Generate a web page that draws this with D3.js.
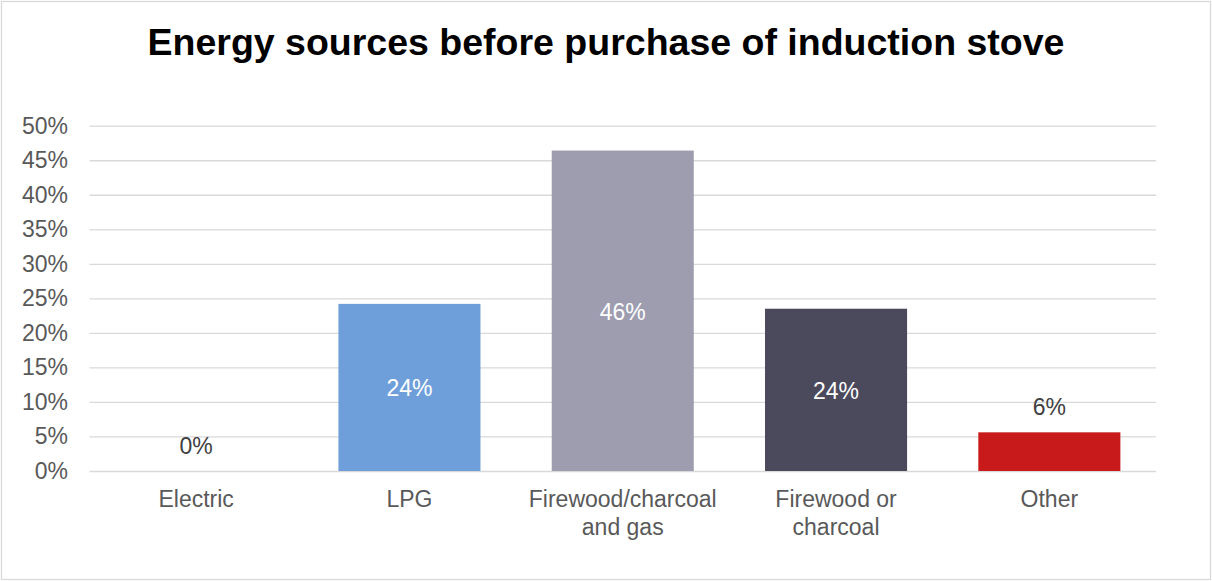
<!DOCTYPE html>
<html lang="en">
<head>
    <meta charset="UTF-8">
    <title>Energy sources before purchase of induction stove</title>
    <script src="https://cdn.jsdelivr.net/npm/d3@7"></script>
    <style>
        body { margin: 0; background: #fff; }
        text { font-family: "Liberation Sans", Arial, sans-serif; }
    </style>
</head>
<body>
<div id="chart"></div>
<script>

    // chart data
    const categories = ["Electric", "LPG", "Firewood/charcoal and gas", "Firewood or charcoal", "Other"];
    const shares = [0, 24.2, 46.4, 23.5, 5.6];
    const barColors = ["#6f9fdb", "#6f9fdb", "#9d9daf", "#4b4a5c", "#c81a1a"];
    const yTicks = [0, 5, 10, 15, 20, 25, 30, 35, 40, 45, 50];
    // how the category names break onto two lines
    const catLines = [["Electric"], ["LPG"], ["Firewood/charcoal", "and gas"], ["Firewood or", "charcoal"], ["Other"]];

    const W = 1212, H = 581;
    const plotLeft = 89.5, plotRight = 1156, plotTop = 125.7, plotBottom = 471;
    const fontSize = 23;

    const svg = d3.select("#chart").append("svg")
        .attr("width", W)
        .attr("height", H);

    svg.append("rect")
        .attr("x", 1.5).attr("y", 1.5)
        .attr("width", W - 3).attr("height", H - 3)
        .attr("fill", "#fff")
        .attr("stroke", "#d9d9d9")
        .attr("stroke-width", 1.3);

    svg.append("text")
        .attr("x", 606)
        .attr("y", 55)
        .attr("text-anchor", "middle")
        .attr("font-size", 37.5)
        .attr("font-weight", "bold")
        .attr("fill", "#000")
        .text("Energy sources before purchase of induction stove");

    const x = d3.scaleBand()
        .domain(categories)
        .range([plotLeft, plotRight])
        .paddingInner(0.334)
        .paddingOuter(0.167);

    const y = d3.scaleLinear()
        .domain([0, 50])
        .range([plotBottom, plotTop]);

    // gridlines
    svg.append("g")
        .attr("transform", "translate(" + plotLeft + ",0)")
        .call(d3.axisLeft(y).tickValues(yTicks).tickSize(-(plotRight - plotLeft)).tickFormat(""))
        .call(g => g.select(".domain").remove())
        .call(g => g.selectAll("line").attr("stroke", "#d9d9d9").attr("stroke-width", 1.3));

    // y tick labels
    svg.append("g")
        .attr("transform", "translate(68,0)")
        .call(d3.axisLeft(y).tickValues(yTicks).tickSize(0).tickPadding(0).tickFormat(d => d + "%"))
        .call(g => g.select(".domain").remove())
        .call(g => g.selectAll("text")
            .attr("font-size", fontSize)
            .attr("fill", "#595959")
            .attr("font-family", "Liberation Sans, Arial, sans-serif"));

    // bars
    svg.selectAll(".bar")
        .data(categories)
        .enter()
        .append("rect")
        .attr("class", "bar")
        .attr("x", d => x(d))
        .attr("width", x.bandwidth())
        .attr("y", (d, i) => y(shares[i]))
        .attr("height", (d, i) => plotBottom - y(shares[i]))
        .attr("fill", (d, i) => barColors[i]);

    // value labels: inside tall bars, above short ones
    svg.selectAll(".val")
        .data(categories)
        .enter()
        .append("text")
        .attr("class", "val")
        .attr("x", d => x(d) + x.bandwidth() / 2)
        .attr("y", function(d, i) {
            if (shares[i] > 10) {
                return (y(shares[i]) + plotBottom) / 2 + 9;
            }
            return y(shares[i]) - 17;
        })
        .attr("text-anchor", "middle")
        .attr("font-size", fontSize)
        .attr("fill", (d, i) => shares[i] > 10 ? "#fff" : "#404040")
        .text((d, i) => Math.round(shares[i]) + "%");

    // category labels
    const catText = svg.selectAll(".cat")
        .data(categories)
        .enter()
        .append("text")
        .attr("class", "cat")
        .attr("x", d => x(d) + x.bandwidth() / 2)
        .attr("y", 507)
        .attr("text-anchor", "middle")
        .attr("font-size", fontSize)
        .attr("fill", "#595959");

    catText.each(function(d, i) {
        const t = d3.select(this);
        catLines[i].forEach(function(line, j) {
            t.append("tspan")
                .attr("x", x(d) + x.bandwidth() / 2)
                .attr("dy", j === 0 ? 0 : 28)
                .text(line);
        });
    });
</script>
</body>
</html>
